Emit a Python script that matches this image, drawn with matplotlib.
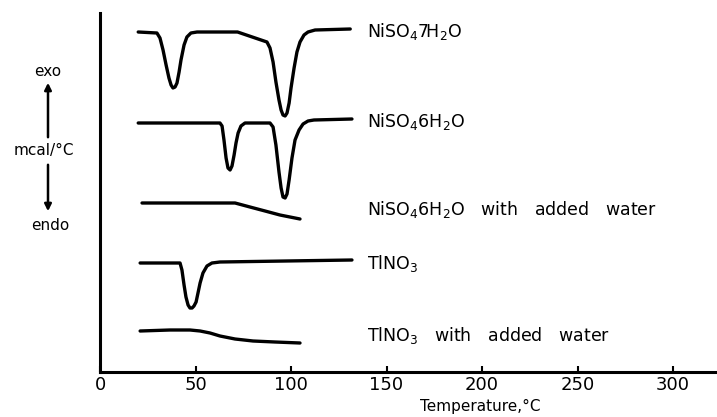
import matplotlib
matplotlib.use('Agg')
import matplotlib.pyplot as plt

# DTA traces: temperature (deg C) and signal relative to each baseline
ni7_temp = [20, 29.8, 31.4, 33, 34.6, 36.1, 37.2, 38.2, 39.3, 40.3, 41.4, 42.4, 44, 45.5, 47.6, 50.8, 72,
            87.4, 89, 90.6, 92.1, 93.7, 94.8, 95.8, 96.9, 97.9, 99, 100, 101.6, 103.1, 104.7, 106.8, 108.9, 112.6, 131]
ni7_sig = [0, -1, -6, -18, -33, -46, -53, -56, -55, -51, -40, -28, -13, -5, -1, 0, 0,
           -10, -16, -30, -50, -68, -78, -83, -84, -81, -71, -56, -36, -20, -10, -3, 0, 2, 3]

ni6_temp = [20, 62.8, 63.9, 64.9, 66, 67, 68.1, 69.1, 70.2, 71.2, 72.3, 73.8, 75.9,
            89, 90.6, 92.1, 93.7, 94.8, 95.8, 96.9, 97.9, 99, 100.5, 102.1, 104.2, 106.3, 108.9, 112, 131.9]
ni6_sig = [0, 0, -3, -17, -35, -45, -47, -43, -32, -20, -10, -3, 0,
           0, -4, -22, -49, -65, -74, -75, -71, -57, -35, -17, -7, -1, 2, 3, 4]

ni6w_temp = [22, 70.7, 78.5, 86.4, 94.2, 104.7]
ni6w_sig = [0, 0, -4, -8, -12, -16]

tl_temp = [21, 41.9, 42.9, 44, 45, 46.1, 47.1, 48.2, 49.2, 50.3, 51.3, 52.4, 53.9, 56, 58.6, 62.8, 131.9]
tl_sig = [0, 0, -7, -22, -34, -42, -45, -45, -43, -39, -30, -20, -10, -3, 0, 1, 3]

tlw_temp = [21, 36.6, 47.1, 52.4, 57.6, 62.8, 70.7, 80.1, 91.6, 104.7]
tlw_sig = [0, 1, 1, 0, -2, -5, -8, -10, -11, -12]

labels = [r'NiSO$_4$7H$_2$O', r'NiSO$_4$6H$_2$O', r'NiSO$_4$6H$_2$O   with   added   water',
          r'TlNO$_3$', r'TlNO$_3$   with   added   water']
xticks = [0, 50, 100, 150, 200, 250, 300]

traces = [(ni7_temp, ni7_sig), (ni6_temp, ni6_sig), (ni6w_temp, ni6w_sig),
          (tl_temp, tl_sig), (tlw_temp, tlw_sig)]
offsets = [340, 249, 169, 109, 41]
label_y = [340, 250, 162, 109, 37]

fig = plt.figure(figsize=(7.17, 4.17), dpi=100)
ax = fig.add_axes([100 / 717, 45 / 417, 617 / 717, 359 / 417])

for (t, s), off in zip(traces, offsets):
    ax.plot(t, [v + off for v in s], color='black', lw=2.4,
            solid_joinstyle='round', solid_capstyle='round')

for lab, ly in zip(labels, label_y):
    ax.text(140, ly, lab, fontsize=12.5, va='center', ha='left')

ax.set_xlim(0, 323)
ax.set_ylim(0, 359)
ax.set_xticks(xticks)
ax.set_xticklabels([str(v) for v in xticks], fontsize=13)
ax.set_yticks([])
ax.tick_params(axis='x', direction='in', length=4, width=1.5, pad=3)
for side in ['top', 'right']:
    ax.spines[side].set_visible(False)
for side in ['left', 'bottom']:
    ax.spines[side].set_linewidth(2.2)

ax.set_xlabel('Temperature,°C', fontsize=11)
ax.xaxis.set_label_coords(0.617, -0.075)

# exo / endo direction marker on the left
fig.text(48 / 717, 1 - 72 / 417, 'exo', fontsize=11, ha='center', va='center')
fig.text(44 / 717, 1 - 151 / 417, 'mcal/°C', fontsize=11, ha='center', va='center')
fig.text(50 / 717, 1 - 226 / 417, 'endo', fontsize=11, ha='center', va='center')
fig.add_artist(matplotlib.patches.FancyArrowPatch(
    (48 / 717, 1 - 140 / 417), (48 / 717, 1 - 80 / 417), transform=fig.transFigure,
    arrowstyle='-|>', mutation_scale=10, lw=1.8, color='black'))
fig.add_artist(matplotlib.patches.FancyArrowPatch(
    (48 / 717, 1 - 162 / 417), (48 / 717, 1 - 214 / 417), transform=fig.transFigure,
    arrowstyle='-|>', mutation_scale=10, lw=1.8, color='black'))

fig.savefig('out.png', dpi=100)
